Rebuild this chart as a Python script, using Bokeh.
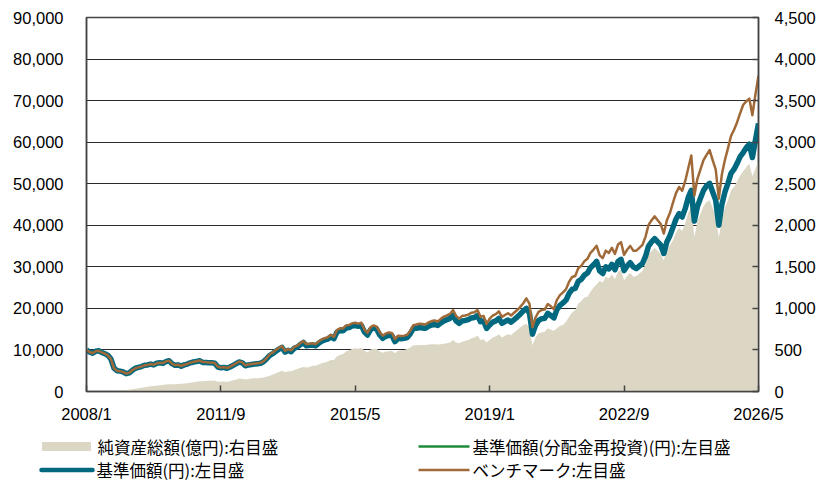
from bokeh.plotting import figure
from bokeh.models import Range1d, LinearAxis, FixedTicker, NumeralTickFormatter
from bokeh.layouts import column
from bokeh.embed import file_html
from bokeh.resources import INLINE
from bokeh.core.properties import value

# ---------------- data (monthly, 2008/1 .. 2026/5) ----------------
tick_labels = ["2008/1", "2011/9", "2015/5", "2019/1", "2022/9", "2026/5"]

# 基準価額(円)
nav_price = [
    10000, 9500, 9200, 9700, 9800, 9400, 9100, 8700, 7800, 5600, 5000, 4900,          # 2008
    4700, 4300, 4500, 5100, 5600, 5800, 6000, 6300, 6400, 6600, 6400, 6800,           # 2009
    6900, 6800, 7200, 7400, 6700, 6300, 6400, 6100, 6400, 6600, 6900, 7100,           # 2010
    7200, 7400, 7000, 7000, 6900, 6900, 6800, 5900, 5700, 5800, 5600, 5900,           # 2011
    6300, 6700, 7100, 6900, 6200, 6400, 6500, 6600, 6700, 6800, 7200, 7900,           # 2012
    8700, 9100, 9700, 10200, 10600, 9500, 9900, 9600, 10400, 10700, 11300, 11800,     # 2013
    11000, 11100, 11200, 11000, 11600, 12100, 12400, 12600, 13200, 12700, 14300, 14700,  # 2014
    14600, 15300, 15400, 15800, 15900, 15700, 15900, 14300, 13600, 14900, 15300, 15000,  # 2015
    13600, 12800, 13300, 13500, 13400, 12000, 12800, 12700, 12800, 13000, 13900, 15200,  # 2016
    15200, 15400, 15300, 15200, 15700, 16000, 16100, 15900, 16500, 17000, 17300, 17600,  # 2017
    18300, 17000, 16400, 17000, 17100, 17300, 17700, 17800, 18300, 16800, 17000, 15200,  # 2018
    16000, 16700, 17000, 17600, 16400, 16800, 17200, 16700, 17300, 17900, 18600, 19400,  # 2019
    20000, 18900, 13800, 15900, 17100, 17500, 17600, 18800, 18300, 17700, 19700, 20700,  # 2020
    21300, 22000, 23600, 24600, 24800, 26500, 27000, 28000, 28500, 29800, 30500, 31300,  # 2021
    29000, 28400, 30000, 29500, 30600, 29300, 31300, 31800, 29100, 30200, 31000, 30000,  # 2022
    29600, 30200, 30800, 32500, 35000, 36000, 36800, 36000, 35200, 33200, 36000, 37500,  # 2023
    39500, 41500, 42800, 42000, 44000, 46700, 48400, 41000, 44500, 46500, 48400, 49500,  # 2024
    50100, 48000, 46000, 40000, 45000, 48000, 50100, 52500, 53500, 54900, 56500, 57500,  # 2025
    58700, 59500, 56300, 60500, 64500,                                                  # 2026
]

# 基準価額(分配金再投資)(円) - no distributions, identical to the base price
nav_reinvested = list(nav_price)

# ベンチマーク
benchmark = [
    10000, 9500, 9200, 9700, 9800, 9400, 9100, 8700, 7800, 5600, 5000, 4900,
    4700, 4300, 4500, 5100, 5600, 5800, 6000, 6300, 6400, 6600, 6400, 6800,
    6930, 6830, 7240, 7440, 6730, 6330, 6430, 6130, 6430, 6630, 6930, 7140,
    7270, 7470, 7070, 7070, 6970, 6970, 6870, 5960, 5760, 5860, 5660, 5960,
    6390, 6800, 7210, 7000, 6290, 6500, 6600, 6700, 6800, 6900, 7310, 8020,
    8960, 9370, 9990, 10510, 10920, 9790, 10200, 9890, 10710, 11020, 11640, 12150,
    11390, 11490, 11590, 11390, 12010, 12520, 12830, 13040, 13660, 13140, 14800, 15210,
    15180, 15910, 16020, 16430, 16540, 16330, 16540, 14870, 14140, 15500, 15910, 15600,
    14280, 13440, 13970, 14180, 14070, 12600, 13440, 13340, 13440, 13650, 14600, 15960,
    16110, 16320, 16220, 16110, 16640, 16960, 17070, 16850, 17490, 18020, 18340, 18660,
    19580, 18190, 17550, 18190, 18300, 18510, 18940, 19050, 19580, 17980, 18190, 16260,
    17520, 18290, 18620, 19270, 17960, 18400, 18830, 18290, 18940, 19600, 20370, 21240,
    22400, 21170, 15460, 17810, 19150, 19600, 19710, 21060, 20500, 19820, 22060, 23180,
    23860, 24640, 26430, 27550, 27780, 29680, 30240, 31360, 31920, 33380, 34160, 35060,
    32770, 32090, 33900, 33340, 34580, 33110, 35370, 35930, 32880, 34130, 35030, 33900,
    33890, 34580, 35270, 37210, 40080, 41220, 42140, 41220, 40300, 38010, 41220, 42940,
    45430, 47730, 49220, 48300, 50600, 53710, 56800, 47150, 51180, 53480, 55660, 56930,
    58100, 55700, 53400, 46400, 52200, 55700, 58500, 61500, 63000, 64800, 67000, 69000,
    69800, 70500, 66500, 71500, 76000,
]

# 純資産総額(億円) - right axis
net_assets = [
    2, 3, 4, 5, 6, 7, 8, 9, 10, 10, 11, 12,
    14, 16, 20, 26, 32, 38, 44, 50, 56, 62, 66, 70,
    74, 78, 84, 88, 86, 86, 90, 92, 96, 100, 106, 112,
    118, 124, 122, 126, 128, 130, 132, 118, 116, 120, 118, 124,
    135, 145, 155, 152, 145, 150, 155, 158, 160, 162, 168, 178,
    190, 205, 220, 235, 250, 235, 245, 245, 260, 270, 285, 295,
    290, 295, 310, 310, 325, 340, 350, 360, 380, 380, 420, 440,
    450, 480, 495, 510, 520, 515, 525, 490, 470, 505, 515, 515,
    480, 465, 480, 485, 490, 460, 490, 495, 500, 510, 530, 555,
    555, 560, 560, 560, 565, 570, 570, 565, 570, 575, 580, 590,
    620, 590, 580, 600, 610, 620, 640, 650, 675, 620, 630, 590,
    620, 650, 665, 690, 650, 670, 690, 680, 710, 740, 770, 800,
    815, 770, 555, 650, 700, 710, 720, 760, 745, 730, 760, 790,
    800, 840, 900, 950, 980, 1060, 1090, 1130, 1140, 1200, 1250, 1290,
    1330, 1310, 1380, 1360, 1410, 1350, 1440, 1460, 1340, 1390, 1430, 1380,
    1390, 1420, 1450, 1530, 1650, 1690, 1730, 1690, 1650, 1580, 1690, 1760,
    1820, 1910, 1970, 1930, 2020, 2150, 2230, 1860, 2050, 2140, 2230, 2280,
    2300, 2210, 2120, 1850, 2070, 2210, 2300, 2420, 2460, 2530, 2600, 2650,
    2700, 2740, 2590, 2680, 2780,
]

left_ticks = [0, 10000, 20000, 30000, 40000, 50000, 60000, 70000, 80000, 90000]
right_ticks = [0, 500, 1000, 1500, 2000, 2500, 3000, 3500, 4000, 4500]

legend_labels = [
    "純資産総額(億円):右目盛",
    "基準価額(円):左目盛",
    "基準価額(分配金再投資)(円):左目盛",
    "ベンチマーク:左目盛",
]

# ---------------- styles ----------------
C_AREA = "#DCD7C4"
C_NAV = "#00687F"
C_REINV = "#1E8B3C"
C_BENCH = "#A06A38"
TICK_FONT = "Liberation Sans"
LEG_FONT = "Noto Sans CJK JP"

month_idx = list(range(len(nav_price)))


def label_to_month(s):
    y, m = s.split("/")
    return (int(y) - 2008) * 12 + int(m) - 1


tick_months = [label_to_month(s) for s in tick_labels]

p = figure(width=824, height=430, output_backend="svg", toolbar_location=None,
           x_range=Range1d(tick_months[0], tick_months[-1]),
           y_range=Range1d(left_ticks[0], left_ticks[-1]),
           min_border_left=86, min_border_right=66, min_border_top=17,
           min_border_bottom=39)
p.frame_align = False
p.extra_y_ranges = {"na": Range1d(right_ticks[0], right_ticks[-1])}

p.varea(x=month_idx, y1=0, y2=net_assets, y_range_name="na", color=C_AREA)
p.line(month_idx, nav_reinvested, color=C_REINV, line_width=2)
p.line(month_idx, nav_price, color=C_NAV, line_width=5.5, line_join="round")
p.line(month_idx, benchmark, color=C_BENCH, line_width=2.5, line_join="round")

p.xgrid.visible = False
p.ygrid.ticker = FixedTicker(ticks=left_ticks)
p.ygrid.grid_line_color = "#2b2b2b"
p.ygrid.grid_line_width = 1
p.outline_line_color = "#444444"
p.outline_line_width = 1.5

xa = p.xaxis[0]
xa.ticker = FixedTicker(ticks=tick_months)
xa.major_label_overrides = {m: s for m, s in zip(tick_months, tick_labels)}
xa.major_tick_in = 6
xa.major_tick_out = 0
xa.minor_tick_line_color = None
xa.axis_line_color = "#444444"
xa.axis_line_width = 1.5
xa.major_tick_line_color = "#444444"
xa.major_tick_line_width = 1.5
xa.major_label_standoff = 13
xa.major_label_text_font = TICK_FONT
xa.major_label_text_font_size = "16.5px"
xa.major_label_text_color = "#000000"

ya = p.yaxis[0]
ya.ticker = FixedTicker(ticks=left_ticks)
ya.formatter = NumeralTickFormatter(format="0,0")
ya.major_tick_in = 0
ya.major_tick_out = 0
ya.minor_tick_line_color = None
ya.axis_line_color = "#444444"
ya.axis_line_width = 1.5
ya.major_label_standoff = 23
ya.major_label_text_font = TICK_FONT
ya.major_label_text_font_size = "16.5px"
ya.major_label_text_color = "#000000"

ra = LinearAxis(y_range_name="na", ticker=FixedTicker(ticks=right_ticks),
                formatter=NumeralTickFormatter(format="0,0"))
ra.major_tick_in = 6
ra.major_tick_out = 0
ra.minor_tick_line_color = None
ra.axis_line_color = "#444444"
ra.axis_line_width = 1.5
ra.major_tick_line_color = "#444444"
ra.major_tick_line_width = 1.5
ra.major_label_standoff = 16
ra.major_label_text_font = TICK_FONT
ra.major_label_text_font_size = "16.5px"
ra.major_label_text_color = "#000000"
p.add_layout(ra, "right")

# ---------------- legend strip (pixel coordinates) ----------------
lg = figure(width=824, height=51, output_backend="svg", toolbar_location=None,
            x_range=Range1d(0, 824), y_range=Range1d(51, 0),
            x_axis_location=None, y_axis_location=None,
            min_border_left=0, min_border_right=0, min_border_top=0, min_border_bottom=0)
lg.frame_align = False
lg.grid.visible = False
lg.outline_line_color = None
lg.background_fill_alpha = 0
lg.border_fill_alpha = 0

lg.quad(left=[42], right=[90], top=[12], bottom=[20], color=C_AREA)
lg.line([41, 92], [39.5, 39.5], color=C_NAV, line_width=4.5, line_cap="round")
lg.line([418, 469], [16, 16], color=C_REINV, line_width=2.5)
lg.line([418, 469], [39.5, 39.5], color=C_BENCH, line_width=2.5)
lg.text(x=[97, 96, 472, 472], y=[16, 39.5, 16, 39.5], text=legend_labels,
        text_baseline="middle", text_align="left",
        text_font=value(LEG_FONT), text_font_size="16.5px", text_color="#000000")

layout = column(p, lg, spacing=0)
open("out.html", "w").write(file_html(layout, INLINE))
